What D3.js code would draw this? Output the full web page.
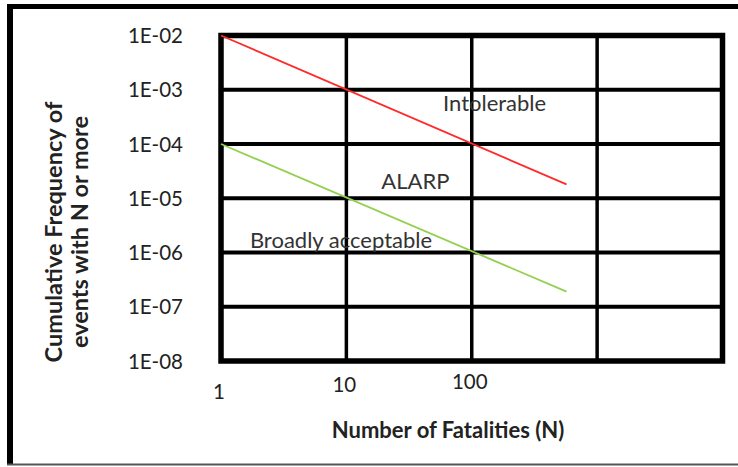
<!DOCTYPE html>
<html><head><meta charset="utf-8">
<script src="https://cdn.jsdelivr.net/npm/d3@7"></script>
<style>body{margin:0;background:#fff}svg{display:block}text{font-family:Lato,"Liberation Sans",sans-serif;fill:#222}</style>
</head><body><svg id="c" width="738" height="467"></svg>
<script>
// ---- data ----
const xTicks = [1, 10, 100, 1000, 10000];
const xTickLabels = ["1", "10", "100", "", ""];
const yTicks = [1e-2, 1e-3, 1e-4, 1e-5, 1e-6, 1e-7, 1e-8];
const yTickLabels = ["1E-02", "1E-03", "1E-04", "1E-05", "1E-06", "1E-07", "1E-08"];
const intolerableN = [1, 570];
const intolerableF = [1e-2, 1.8e-5];
const acceptableN = [1, 570];
const acceptableF = [1e-4, 1.9e-7];
const regionLabels = ["Intolerable", "ALARP", "Broadly acceptable"];
const regionN = [59, 19, 1.7];
const regionF = [4.1e-4, 1.5e-5, 1.2e-6];

const svg = d3.select("#c");
const x = d3.scaleLog().domain([1, 10000]).range([221, 722.5]);
const y = d3.scaleLog().domain([1e-2, 1e-8]).range([35.5, 361]);

// outer frame
svg.append("line").attr("x1", 10).attr("x2", 738).attr("y1", 6.5).attr("y2", 6.5).attr("stroke", "#000").attr("stroke-width", 5);
svg.append("line").attr("x1", 10).attr("x2", 10).attr("y1", 4).attr("y2", 464).attr("stroke", "#000").attr("stroke-width", 6);
svg.append("line").attr("x1", 7).attr("x2", 738).attr("y1", 464.5).attr("y2", 464.5).attr("stroke", "#555").attr("stroke-width", 2);

// grid
const g = svg.append("g");
g.selectAll("line.h").data(yTicks.slice(1, -1)).join("line")
  .attr("x1", x(1)).attr("x2", x(10000)).attr("y1", d => y(d)).attr("y2", d => y(d))
  .attr("stroke", "#000").attr("stroke-width", 4);
g.selectAll("line.v").data(xTicks.slice(1, -1)).join("line")
  .attr("y1", y(1e-2)).attr("y2", y(1e-8)).attr("x1", d => x(d)).attr("x2", d => x(d))
  .attr("stroke", "#000").attr("stroke-width", 3.5);
g.append("rect").attr("x", x(1)).attr("y", y(1e-2)).attr("width", x(10000) - x(1)).attr("height", y(1e-8) - y(1e-2))
  .attr("fill", "none").attr("stroke", "#000").attr("stroke-width", 5.5);

// y tick labels
svg.selectAll("text.yt").data(yTicks).join("text")
  .attr("x", 183).attr("y", d => y(d) + 7.5).attr("text-anchor", "end")
  .attr("font-size", 20.5).text((d, i) => yTickLabels[i]);

// x tick labels (staggered as in source)
const xOff = [30, 23, 20];
svg.selectAll("text.xt").data(xTicks).join("text")
  .attr("x", d => x(d) - 2).attr("y", (d, i) => y(1e-8) + (xOff[i] || 0) + 8).attr("text-anchor", "middle")
  .attr("font-size", 20.5).text((d, i) => xTickLabels[i]);

// lines
const line = d3.line().x(d => x(d[0])).y(d => y(d[1]));
svg.append("path").datum(intolerableN.map((n, i) => [n, intolerableF[i]])).attr("d", line)
  .attr("fill", "none").attr("stroke", "#ff2a2a").attr("stroke-width", 1.8);
svg.append("path").datum(acceptableN.map((n, i) => [n, acceptableF[i]])).attr("d", line)
  .attr("fill", "none").attr("stroke", "#92d050").attr("stroke-width", 1.8);

// region labels
svg.selectAll("text.rl").data(regionLabels).join("text")
  .attr("x", (d, i) => x(regionN[i])).attr("y", (d, i) => y(regionF[i]))
  .attr("font-size", 22).style("fill", "#333").text(d => d);

// axis titles
svg.append("text").attr("x", 448).attr("y", 438).attr("text-anchor", "middle")
  .attr("font-size", 22).attr("font-weight", "bold").text("Number of Fatalities (N)");
const yt = svg.append("text").attr("transform", "translate(62,232) rotate(-90)").attr("text-anchor", "middle")
  .attr("font-size", 23.5).attr("font-weight", "bold");
yt.append("tspan").attr("x", 0).attr("y", 0).text("Cumulative Frequency of");
yt.append("tspan").attr("x", 0).attr("y", 26).text("events with N or more");
</script></body></html>
